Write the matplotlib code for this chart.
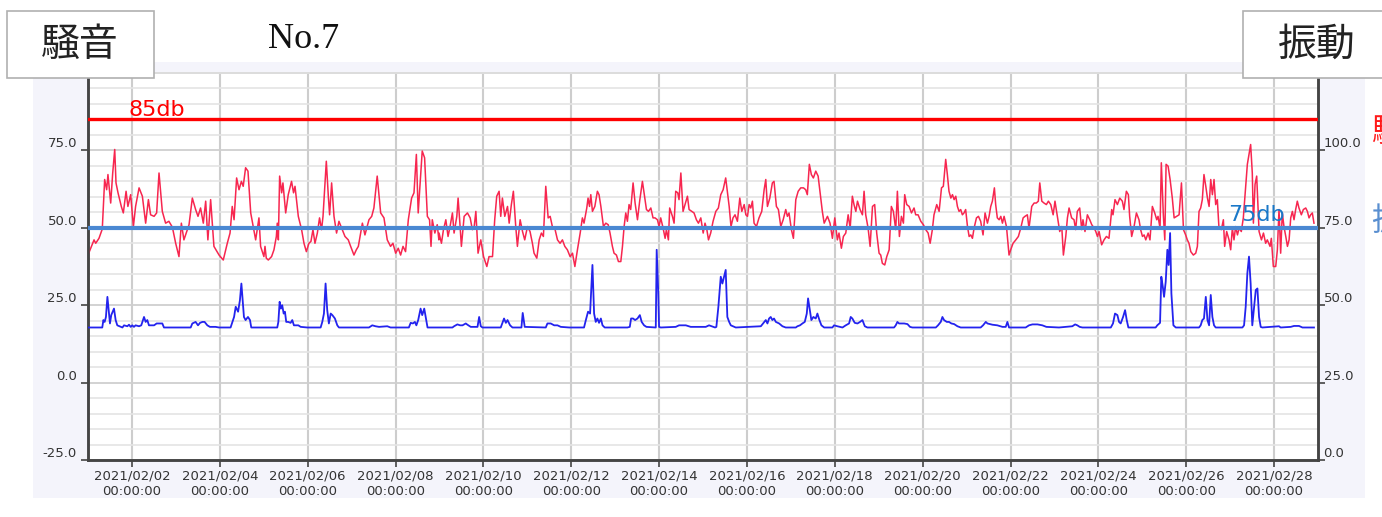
import numpy as np
import matplotlib
matplotlib.use("Agg")
import matplotlib.pyplot as plt
import matplotlib.dates as mdates
from matplotlib.patches import Rectangle

plt.rcParams["font.family"] = ["DejaVu Sans", "Noto Sans CJK JP"]

# ---------------------------------------------------------------------------
# Data
# ---------------------------------------------------------------------------
start = np.datetime64("2021-02-01T00:00")
end = np.datetime64("2021-03-01T00:00")

# noise level (dB, left axis), hours since 2021/02/01 00:00
noise_hours = [
    0.0, 3.3, 4.2, 6.0, 7.8, 9.1, 10.2, 10.9, 12.4, 13.5, 14.6, 15.3, 16.4, 18.2, 19.3, 20.8,
    21.8, 23.3, 24.8, 26.0, 27.9, 29.7, 31.5, 33.0, 34.2, 36.1, 37.5, 38.8, 40.6, 42.4, 44.2,
    46.1, 47.9, 49.7, 51.0, 52.4, 55.2, 57.0, 58.8, 60.1, 61.5, 63.0, 64.3, 65.5, 67.0, 68.8,
    71.6, 73.9, 76.1, 77.6, 78.8, 79.8, 81.2, 82.5, 83.8, 84.8, 86.1, 87.4, 88.9, 91.6, 93.4,
    94.3, 96.1,
    96.7, 97.4, 98.5, 100.3, 101.6, 102.9, 103.4, 104.0, 104.7, 105.8, 106.5, 108.0, 109.4,
    111.2, 112.3, 113.1, 114.9, 116.7, 118.0, 119.3, 120.7, 121.8, 122.9, 124.0, 125.3, 126.5,
    127.6, 128.4, 130.2, 131.3, 132.0, 133.1, 134.4, 135.8, 137.1, 138.9, 140.4, 142.2, 143.5,
    145.3, 146.6, 147.7, 149.9, 151.3, 153.5, 155.0, 156.2, 158.0, 159.9, 161.7, 163.5, 165.3,
    166.6, 168.1, 169.5, 170.8, 172.1, 173.5, 175.0, 176.8, 178.1, 179.4, 180.4, 182.6, 183.9,
    185.4, 186.6, 187.4, 188.1, 189.5, 190.8, 191.7,
    191.8, 193.1, 194.2, 195.5, 196.7, 197.8, 199.1, 200.0, 201.5, 202.2, 203.3, 204.0, 205.5,
    207.3, 208.8, 210.0, 211.0, 211.9, 213.1, 214.6, 216.1, 217.9, 219.1, 221.0, 222.2, 223.3,
    224.6, 225.5, 226.4, 227.7, 229.2, 230.1, 231.3, 232.4, 233.7, 234.6, 236.1, 237.4, 238.6,
    240.1, 241.5, 242.8, 243.7, 245.2, 246.5, 247.7, 248.8, 250.1, 251.4, 252.5, 253.7, 255.0,
    256.5, 257.9, 259.2, 260.5, 261.9, 263.4, 264.7, 266.0, 267.4, 268.9, 270.1, 271.0, 272.5,
    273.2, 274.0, 274.7, 275.6, 276.9, 278.3, 279.2, 280.2, 281.6, 282.9, 284.2, 285.2, 286.5,
    287.4,
    288.7, 289.8, 291.1, 292.0, 292.9, 293.8, 294.7, 295.6, 296.5, 297.8, 298.9, 300.2, 301.5,
    302.9, 304.2, 305.1, 306.2, 307.5, 308.7, 309.8, 311.1, 312.0, 312.9, 314.2, 315.3, 316.0,
    317.1, 317.8, 319.3, 320.2, 321.1, 322.2, 322.9, 323.9, 325.1, 326.2, 327.5, 328.4, 329.9,
    331.1, 332.4, 333.5, 334.8, 336.1, 337.1, 338.1, 339.0, 340.2, 341.5, 343.0, 344.4, 345.7,
    347.0, 348.4, 349.3, 350.3, 351.3, 352.4, 353.5, 354.8, 356.1, 357.2, 358.5, 359.4, 360.3,
    361.2, 362.1, 363.0, 363.9, 365.2, 366.6, 368.1, 369.4, 370.3, 371.2, 372.5, 373.9, 374.8,
    376.1, 377.2, 378.5, 379.8, 381.2, 382.1, 383.0,
    384.3, 385.4, 386.7, 388.0, 389.4, 390.9, 392.1, 393.0, 394.1, 395.2, 396.3, 397.6, 398.9,
    400.0, 401.2, 402.2, 403.1, 404.0, 405.4, 406.7, 408.0, 409.4, 410.3, 411.6, 412.7, 414.0,
    415.3, 416.4, 417.6, 418.5, 419.5, 420.4, 421.8, 423.1, 424.0, 424.9, 426.2, 427.3, 428.6,
    429.8, 430.9, 432.2, 433.1, 434.0, 435.3, 436.4, 437.7, 438.9, 440.0, 441.3, 442.2, 443.3,
    444.4, 445.5, 446.2, 447.3, 448.6, 449.9, 451.3, 452.2, 453.5, 455.0, 456.4, 457.7, 459.0,
    460.1, 461.3, 462.2, 463.7, 465.0, 466.3, 467.3, 468.6, 469.5, 470.4, 471.4, 472.3, 473.2,
    474.1, 475.0, 475.9, 476.8, 477.7, 478.6,
    479.5, 480.5, 481.4, 482.3, 483.2, 484.1, 485.4, 486.5, 487.7, 489.0, 490.1, 491.4, 492.3,
    493.2, 494.1, 495.2, 495.9, 496.8, 497.8, 498.7, 499.6, 500.5, 501.8, 503.2, 504.1, 505.4,
    506.9, 508.3, 509.6, 510.9, 511.9, 513.2, 514.1, 515.6, 516.9, 518.1, 519.2, 520.0, 521.1,
    522.3, 523.6, 524.7, 526.0, 527.3, 528.3, 529.6, 530.9, 532.0, 532.9, 534.2, 535.1, 536.0,
    537.4, 538.7, 539.6, 540.5, 541.8, 542.9, 543.6, 544.7, 546.0, 547.3, 548.4, 549.7, 550.6,
    551.5, 552.4, 553.8, 555.1, 556.4, 557.8, 559.3, 560.0, 561.1, 562.4, 563.7, 565.1, 566.0,
    567.3, 568.4, 569.1, 570.2, 571.5, 572.8, 574.2,
    575.1, 576.1, 577.0, 577.9, 579.2, 580.2, 581.5, 582.8, 583.9, 584.6, 585.7, 586.4, 587.5,
    588.3, 589.0, 590.1, 591.2, 592.4, 593.4, 594.8, 596.1, 597.4, 598.5, 599.7, 600.6, 601.5,
    602.5, 603.9, 605.2, 606.1, 607.0, 607.9, 608.8, 609.7, 610.7, 611.6, 612.5, 613.4, 614.3,
    615.2, 616.1, 617.0, 617.9, 619.2, 620.3, 621.0, 622.1, 623.4, 624.3, 625.2, 626.1, 627.0,
    628.0, 628.9, 630.1, 631.2, 632.5, 633.4, 634.3, 635.2, 636.1, 636.7, 637.6, 638.5, 639.8,
    641.1, 642.2, 643.4, 644.3, 645.8, 646.5, 647.6, 648.9, 649.8, 650.7, 651.6, 652.5, 653.4,
    654.4, 655.3, 656.2, 657.1, 658.0, 658.9, 659.8, 660.7, 661.6, 662.9, 664.0, 665.3, 666.2,
    667.1, 668.0, 668.9, 669.8,
]
noise_db = [
    41.2, 46.1, 45.0, 46.6, 49.6, 65.6, 62.3, 67.2, 58.0, 67.7, 75.3, 64.5, 61.3, 56.9, 54.8, 61.8,
    56.9, 60.7, 50.4, 56.9, 62.9, 60.2, 51.5, 59.1, 54.2, 53.7, 54.8, 67.7, 55.3, 51.5, 52.1,
    50.2, 45.0, 40.7, 51.5, 46.1, 51.0, 59.6, 55.9, 53.7, 56.4, 51.5, 58.6, 46.1, 59.1, 44.0,
    41.2, 39.6, 45.0, 48.3, 56.9, 52.6, 66.1, 62.3, 65.0, 63.4, 69.4, 68.3, 54.8, 46.1, 53.2,
    44.0, 40.7,
    44.0, 40.2, 39.6, 40.7, 42.9, 47.2, 51.5, 46.1, 66.7, 61.3, 64.5, 54.8, 60.7,
    65.0, 61.3, 63.4, 53.7, 49.4, 45.0, 42.3, 45.0, 45.6, 49.4, 45.0, 48.3, 53.2,
    49.4, 53.7, 71.5, 60.2, 54.2, 64.5, 53.7, 48.3, 52.1, 49.4, 47.2, 46.1, 44.0,
    41.2, 42.9, 44.0, 51.5, 47.7, 52.6, 53.7, 56.4, 66.7, 54.8, 53.2, 46.1, 44.0,
    45.0, 41.8, 43.4, 41.2, 44.0, 42.3, 52.6, 59.6, 61.3, 73.7, 54.8, 74.8, 72.6,
    53.7, 52.6, 44.0, 52.6, 48.3, 51.0, 46.1,
    48.3, 45.0, 49.4, 52.6, 47.2, 50.4, 54.8, 48.3, 53.7, 59.6, 50.4, 44.0, 53.7,
    54.8, 53.2, 49.4, 50.4, 55.3, 41.8, 46.1, 40.7, 37.5, 40.7, 40.7, 52.6, 60.2,
    61.8, 53.7, 59.6, 53.7, 56.9, 51.5, 57.5, 61.8, 50.4, 44.0, 52.6, 48.8, 46.1,
    50.4, 48.8, 45.0, 41.8, 40.2, 46.1, 48.3, 47.2, 63.4, 53.2, 53.7, 50.4, 49.9,
    46.1, 45.0, 46.1, 44.0, 42.9, 40.7, 41.8, 37.5, 42.9, 48.3, 53.2, 51.5, 56.4,
    59.6, 56.9, 60.7, 55.3, 56.9, 61.8, 60.7, 56.9, 50.4, 51.5, 51.0, 48.3, 44.0,
    41.8,
    41.2, 39.1, 39.1, 44.0, 50.4, 54.8, 52.1, 57.5, 55.9, 64.5, 58.0, 52.6, 59.1,
    65.0, 59.6, 55.9, 55.3, 56.4, 53.2, 53.2, 52.6, 50.4, 53.2, 49.9, 46.6, 49.4,
    46.1, 56.4, 53.7, 51.5, 61.8, 61.3, 59.1, 67.7, 55.3, 57.5, 60.2, 55.9, 55.3,
    54.8, 52.6, 51.5, 53.2, 48.3, 51.5, 49.4, 46.1, 48.3, 52.1, 55.3, 56.4, 60.7,
    62.3, 66.1, 61.8, 56.9, 50.4, 53.2, 54.2, 52.1, 59.6, 55.3, 57.5, 54.2, 53.7,
    57.5, 56.4, 58.6, 51.5, 50.4, 53.2, 55.3, 62.3, 65.6, 56.9, 59.6, 64.5, 65.0,
    56.9, 55.9, 50.4, 52.6, 55.9, 53.7, 54.8,
    49.4, 46.6, 59.1, 61.8, 62.9, 62.9, 62.3, 60.7, 70.5, 67.2, 66.1, 68.3, 66.7,
    61.3, 55.3, 51.5, 52.6, 53.7, 51.5, 46.6, 53.2, 46.1, 48.3, 43.4, 47.2, 48.3,
    54.2, 49.9, 60.2, 57.5, 55.3, 58.6, 55.9, 54.2, 61.8, 54.2, 49.9, 44.0, 56.9,
    57.5, 48.3, 41.8, 41.2, 38.5, 38.0, 40.7, 42.9, 56.9, 55.3, 49.4, 61.8, 47.2,
    53.7, 51.5, 60.7, 57.5, 56.9, 54.8, 56.4, 54.2, 54.2, 52.1, 51.0, 49.4, 48.3,
    45.0, 49.4, 54.2, 57.5, 55.3, 62.9, 63.4, 72.1, 67.2, 61.8, 59.6, 60.7, 59.1,
    60.2, 56.9, 55.3, 55.9, 54.2, 54.8,
    55.9, 50.4, 47.2, 47.7, 46.6, 49.9, 53.2, 53.7, 52.1, 47.7, 54.8, 51.5, 53.7,
    56.9, 58.6, 62.9, 57.5, 53.2, 52.6, 53.7, 51.5, 53.7, 50.4, 41.2, 42.9, 45.0,
    46.1, 47.2, 49.9, 53.2, 53.7, 54.2, 49.9, 56.9, 58.0, 58.0, 58.6, 64.5, 58.6,
    58.0, 57.5, 58.6, 57.5, 54.2, 58.6, 53.7, 48.8, 50.4, 41.2, 47.2, 53.2, 56.4,
    53.2, 52.6, 49.4, 55.3, 56.4, 49.4, 52.6, 48.8, 54.2, 52.6, 51.0, 49.9, 48.8,
    47.2, 48.8, 44.5, 46.1, 47.2, 46.6, 55.9, 54.2, 59.1, 57.5, 59.6, 58.6, 55.9,
    61.8, 60.7, 53.7, 47.2, 50.4, 54.8, 52.6,
    49.4, 47.2, 47.7, 46.1, 48.3, 46.1, 56.9, 54.8, 52.6, 53.7, 49.9, 71.0, 54.2,
    46.1, 70.5, 69.9, 65.6, 59.6, 53.2, 53.7, 54.2, 64.5, 49.4, 47.7, 46.1, 45.0,
    42.3, 41.2, 41.8, 44.0, 55.3, 56.4, 59.1, 67.2, 63.4, 59.6, 56.9, 65.6, 60.7,
    65.6, 57.5, 59.1, 49.9, 49.4, 52.6, 44.0, 48.8, 46.1, 42.9, 49.9, 46.1, 50.4,
    47.7, 49.9, 48.8, 53.2, 63.4, 70.5, 73.7, 76.9, 67.7, 51.5, 64.0, 66.7, 48.8,
    46.1, 48.3, 45.0, 46.1, 44.0, 46.6, 37.5, 37.5, 42.9, 55.9, 41.8, 54.8, 50.4,
    47.2, 44.0, 46.1, 53.2, 55.3, 52.6, 55.9, 58.6, 56.4, 54.2, 55.9, 56.4, 55.3,
    53.2, 54.2, 54.8, 51.5,
]

# vibration level (dB, right axis)
vib_hours = [
    0.0, 7.8, 8.4, 9.1, 9.8, 10.6, 11.3, 12.0, 12.7, 13.5, 14.2, 15.1, 16.0, 18.8, 19.7, 21.5,
    22.4, 23.3, 24.2, 25.1, 26.0, 27.9, 29.1, 30.6, 31.5, 32.4, 33.3, 36.1, 37.5, 40.6, 41.5,
    56.1, 57.0, 58.8, 60.1, 61.2, 62.5, 63.7, 65.2, 66.6, 69.7, 71.6, 77.9, 79.8, 80.7, 82.0,
    83.0, 83.8, 84.5, 85.2, 86.1, 87.4, 88.5, 89.2,
    103.4, 104.0, 104.7, 105.4, 106.1, 106.9, 107.6, 108.3, 109.4, 110.7, 111.6, 112.5, 114.9,
    116.2, 119.8, 127.1, 128.0, 128.9, 129.8, 130.7, 131.6, 132.6, 133.5, 134.9, 136.2, 137.1,
    153.5, 155.3, 157.1, 159.0, 163.5, 165.3, 175.3, 176.3, 177.5, 178.6, 179.4, 180.4, 181.7,
    182.6, 183.7, 184.8, 185.5,
    199.1, 200.0, 201.8, 203.3, 204.6, 206.4, 207.3, 209.1, 212.8, 213.7, 214.6, 215.5, 225.5,
    226.4, 227.3, 228.3, 229.2, 230.6, 231.9, 236.8, 237.5, 238.6, 250.1, 251.0, 252.8, 254.7,
    256.5, 258.3, 262.9, 271.0, 272.0, 273.2, 274.3, 275.6, 276.5, 277.4, 278.3, 279.2, 280.2,
    281.1, 282.3,
    294.7, 296.0, 296.7, 297.8, 298.9, 300.2, 301.5, 302.5, 303.8, 305.1, 310.2, 310.7, 311.5,
    312.0, 312.9, 321.1, 322.9, 326.6, 329.3, 337.5, 339.3, 342.6, 343.3, 344.4, 345.7, 346.6,
    347.5, 348.4, 349.3, 350.3, 351.2, 352.4, 353.9, 367.6, 368.8, 370.3, 371.2, 372.1, 373.0,
    373.9, 374.8, 375.8, 377.6, 379.4, 381.2,
    386.7, 387.6, 389.0, 390.3, 391.6, 392.7, 393.4, 394.1, 395.2, 396.3, 397.6, 398.5, 399.6,
    400.7, 402.2, 406.7, 407.6, 409.4, 412.2, 414.0, 415.8, 416.7, 417.6, 418.9, 420.4, 421.8,
    423.1, 424.4, 425.8, 440.4, 441.3, 442.2, 443.1, 445.9, 447.7, 449.1, 450.4, 463.2, 464.4,
    465.9, 466.8, 467.7, 469.2, 470.4, 471.7, 473.2, 475.0, 476.8,
    487.7, 489.0, 490.5, 491.4, 494.1, 496.8, 499.6, 501.4, 502.3, 503.2, 512.3, 514.1, 516.0,
    518.7, 521.4, 523.6, 530.5, 537.8, 539.3, 540.5, 541.8, 543.3, 558.8, 560.0, 561.1, 562.4,
    563.3, 564.2, 565.5, 566.6, 567.5, 568.4,
    583.3, 584.2, 585.7, 586.4, 587.2, 587.9, 588.8, 589.7, 590.4, 591.2, 591.9, 593.0, 594.3,
    607.0, 607.9, 608.8, 609.7, 610.7, 611.6, 612.5, 613.4, 614.3, 615.2, 616.1, 630.7, 631.6,
    632.5, 633.4, 634.3, 635.2, 636.1, 637.1, 638.0, 638.9, 639.8, 640.7, 641.6, 650.7, 651.6,
    657.1, 658.9, 661.6, 663.5, 669.8,
]
vib_db = [
    42.8, 42.8, 45.2, 44.6, 46.2, 52.7, 48.4, 44.1, 46.8, 47.9, 48.9, 45.2, 43.5, 42.8, 43.5, 43.2,
    43.7, 43.0, 43.5, 43.0, 43.5, 43.2, 43.5, 46.2, 44.6, 45.2, 43.5, 43.5, 44.1, 44.1, 42.8,
    42.8, 44.1, 44.6, 43.5, 44.3, 44.6, 44.6, 43.5, 43.0, 43.0, 42.8, 42.8, 46.2, 49.5, 47.9,
    51.6, 57.0, 51.6, 46.2, 45.2, 46.2, 45.2, 42.8,
    42.8, 44.6, 51.1, 48.9, 50.0, 47.3, 47.9, 44.6, 44.6, 44.3, 45.2, 43.5, 43.5,
    43.0, 42.8, 42.8, 44.6, 47.3, 57.0, 48.4, 44.1, 47.3, 46.8, 45.7, 43.5, 42.8,
    42.8, 43.5, 43.2, 43.0, 43.2, 42.8, 42.8, 44.3, 44.1, 44.6, 43.5, 45.2, 48.9,
    46.8, 48.9, 45.2, 42.8,
    42.8, 43.2, 43.8, 43.5, 43.5, 44.1, 43.7, 43.0, 43.0, 46.2, 43.2, 42.8, 42.8,
    44.3, 45.7, 44.3, 45.2, 43.5, 42.8, 42.8, 47.5, 43.0, 42.8, 44.1, 44.1, 43.5,
    43.5, 43.0, 42.8, 42.8, 45.2, 47.9, 47.3, 63.0, 47.3, 44.6, 45.7, 44.3, 45.7,
    43.5, 42.8,
    42.8, 43.0, 45.7, 45.7, 45.2, 45.7, 46.8, 44.6, 43.5, 43.0, 42.8, 67.9, 55.0,
    43.0, 42.8, 43.0, 43.5, 43.5, 43.0, 43.0, 43.5, 42.8, 43.0, 49.5, 59.2, 57.0,
    59.2, 61.4, 46.2, 44.6, 43.5, 43.2, 42.8, 43.2, 44.1, 45.2, 44.1, 45.7, 46.2,
    45.2, 45.7, 44.6, 44.1, 43.2, 42.8,
    42.8, 43.2, 43.5, 44.1, 44.6, 47.3, 52.2, 49.5, 45.2, 46.2, 45.7, 47.3, 45.2,
    43.5, 42.8, 42.8, 43.5, 43.2, 42.8, 43.5, 44.1, 46.2, 45.7, 44.3, 44.1, 44.6,
    45.2, 43.2, 42.8, 42.8, 43.5, 44.6, 44.1, 44.1, 43.9, 43.0, 42.8, 42.8, 43.5,
    44.6, 46.2, 45.2, 44.6, 44.6, 44.1, 43.9, 43.2, 42.8,
    42.8, 43.5, 44.6, 44.1, 43.7, 43.5, 43.0, 43.0, 44.6, 42.8, 42.8, 43.5, 43.8,
    43.8, 43.5, 43.0, 42.8, 43.2, 43.8, 43.5, 43.0, 42.8, 42.8, 44.1, 47.3, 46.8,
    44.6, 44.1, 46.2, 48.4, 45.2, 42.8,
    42.8, 43.5, 44.3, 59.2, 56.0, 52.7, 57.6, 67.9, 63.0, 73.3, 53.8, 43.5, 42.8,
    42.8, 43.5, 45.2, 45.7, 52.7, 45.2, 43.5, 53.3, 46.2, 43.5, 42.8, 42.8, 43.5,
    49.5, 60.3, 65.7, 57.0, 43.5, 49.5, 54.9, 55.4, 46.2, 43.0, 42.8, 43.2, 42.8,
    43.0, 43.3, 43.3, 42.8, 42.8,
]

noise_limit = 85  # left axis
vib_limit = 75    # right axis
left_ticks = [-25, 0, 25, 50, 75]
right_ticks = [0, 25, 50, 75, 100]


def to_time(hours):
    minutes = np.round(np.asarray(hours) * 60).astype(int)
    return start + minutes.astype("timedelta64[m]")


# ---------------------------------------------------------------------------
# Figure
# ---------------------------------------------------------------------------
W, H = 1382, 517
fig = plt.figure(figsize=(W / 100, H / 100), dpi=100)
fig.patch.set_facecolor("white")


def px_rect(x0, y0, x1, y1, **kw):
    """Rectangle given in figure pixels (origin top-left)."""
    r = Rectangle((x0 / W, 1 - y1 / H), (x1 - x0) / W, (y1 - y0) / H,
                  transform=fig.transFigure, **kw)
    fig.add_artist(r)
    return r


# chart control background
px_rect(33, 62, 1365, 498, facecolor="#f4f4fb", edgecolor="none", zorder=0)

ax = fig.add_axes([88 / W, 1 - 460 / H, (1318 - 88) / W, (460 - 73) / H])
ax.set_facecolor("white")
ax2 = ax.twinx()

ax.set_xlim(start, end)
ax.set_ylim(-25, 100)
ax2.set_ylim(0, 125)

# grid
ax.set_yticks(left_ticks)
ax.set_yticks(np.arange(-25, 101, 5), minor=True)
ax.grid(which="minor", axis="y", color="#e4e4e4", lw=1.2)
ax.grid(which="major", axis="y", color="#cfcfcf", lw=1.3)
ax.xaxis.set_major_locator(mdates.DayLocator(bymonthday=range(2, 29, 2)))
ax.xaxis.set_major_formatter(mdates.DateFormatter("%Y/%m/%d\n%H:%M:%S"))
ax.grid(which="major", axis="x", color="#cdcdcd", lw=1.5)
ax.set_axisbelow(True)

ax.set_yticklabels([f"{t:.1f}" for t in left_ticks])
ax2.set_yticks(right_ticks)
ax2.set_yticklabels([f"{t:.1f}" for t in right_ticks])

for a in (ax, ax2):
    a.tick_params(axis="y", which="major", direction="out", length=5, width=1.2,
                  color="#444444", labelsize=9.5, labelcolor="#333333", pad=3)
    a.tick_params(axis="y", which="minor", length=0)
    for s in a.spines.values():
        s.set_color("#444444")
        s.set_linewidth(1.8)
    a.spines["top"].set_color("#dcdcdc")
    a.spines["top"].set_linewidth(1.2)
ax2.tick_params(axis="y", which="major", pad=-1)
ax.tick_params(axis="x", direction="out", length=5, width=1.2, color="#444444",
               labelsize=9.5, labelcolor="#333333", pad=2)
for t in ax.get_yticklabels() + ax2.get_yticklabels():
    t.set_va("bottom")

# series
ax.plot(to_time(noise_hours), noise_db, color="#f7264f", lw=1.1, zorder=3)
ax2.plot(to_time(vib_hours), vib_db, color="#2323ee", lw=1.3, zorder=3)

# limit lines (drawn on the right axis so they sit on top)
ax2.axhline(noise_limit + 25, color="#ff0000", lw=2.4, zorder=4)
ax2.axhline(vib_limit, color="#4a88d2", lw=3.0, zorder=4)
ax2.text(start + np.timedelta64(22, "h"), noise_limit + 25 + 1.2, f"{noise_limit}db",
         color="#ff0000", fontsize=16, va="baseline", ha="left", zorder=5)
ax2.text(start + np.timedelta64(623, "h"), vib_limit + 2.2, f"{vib_limit}db",
         color="#1a78c8", fontsize=16, va="baseline", ha="left", zorder=5)

# header boxes and title
px_rect(7, 11, 154, 78, facecolor="white", edgecolor="#b0b0b0", lw=1.2, zorder=2)
px_rect(1243, 11, 1395, 78, facecolor="white", edgecolor="#b0b0b0", lw=1.2, zorder=2)
fig.text(80 / W, 1 - 45 / H, "騒音", fontsize=28, family=["Noto Sans CJK JP"],
         ha="center", va="center", color="#222222", zorder=3)
fig.text(1317 / W, 1 - 45 / H, "振動", fontsize=28, family=["Noto Sans CJK JP"],
         ha="center", va="center", color="#222222", zorder=3)
fig.text(304 / W, 1 - 39 / H, "No.7", fontsize=26, family=["Liberation Serif"],
         ha="center", va="center", color="#111111")

# axis titles cut off at the right edge (as in the source screenshot)
fig.text(1371 / W, 1 - 132 / H, "騒", fontsize=23, family=["Noto Sans CJK JP"],
         ha="left", va="center", color="#ff1a1a")
fig.text(1371 / W, 1 - 221 / H, "振", fontsize=23, family=["Noto Sans CJK JP"],
         ha="left", va="center", color="#5a8fd0")

fig.savefig("out.png", dpi=100)
